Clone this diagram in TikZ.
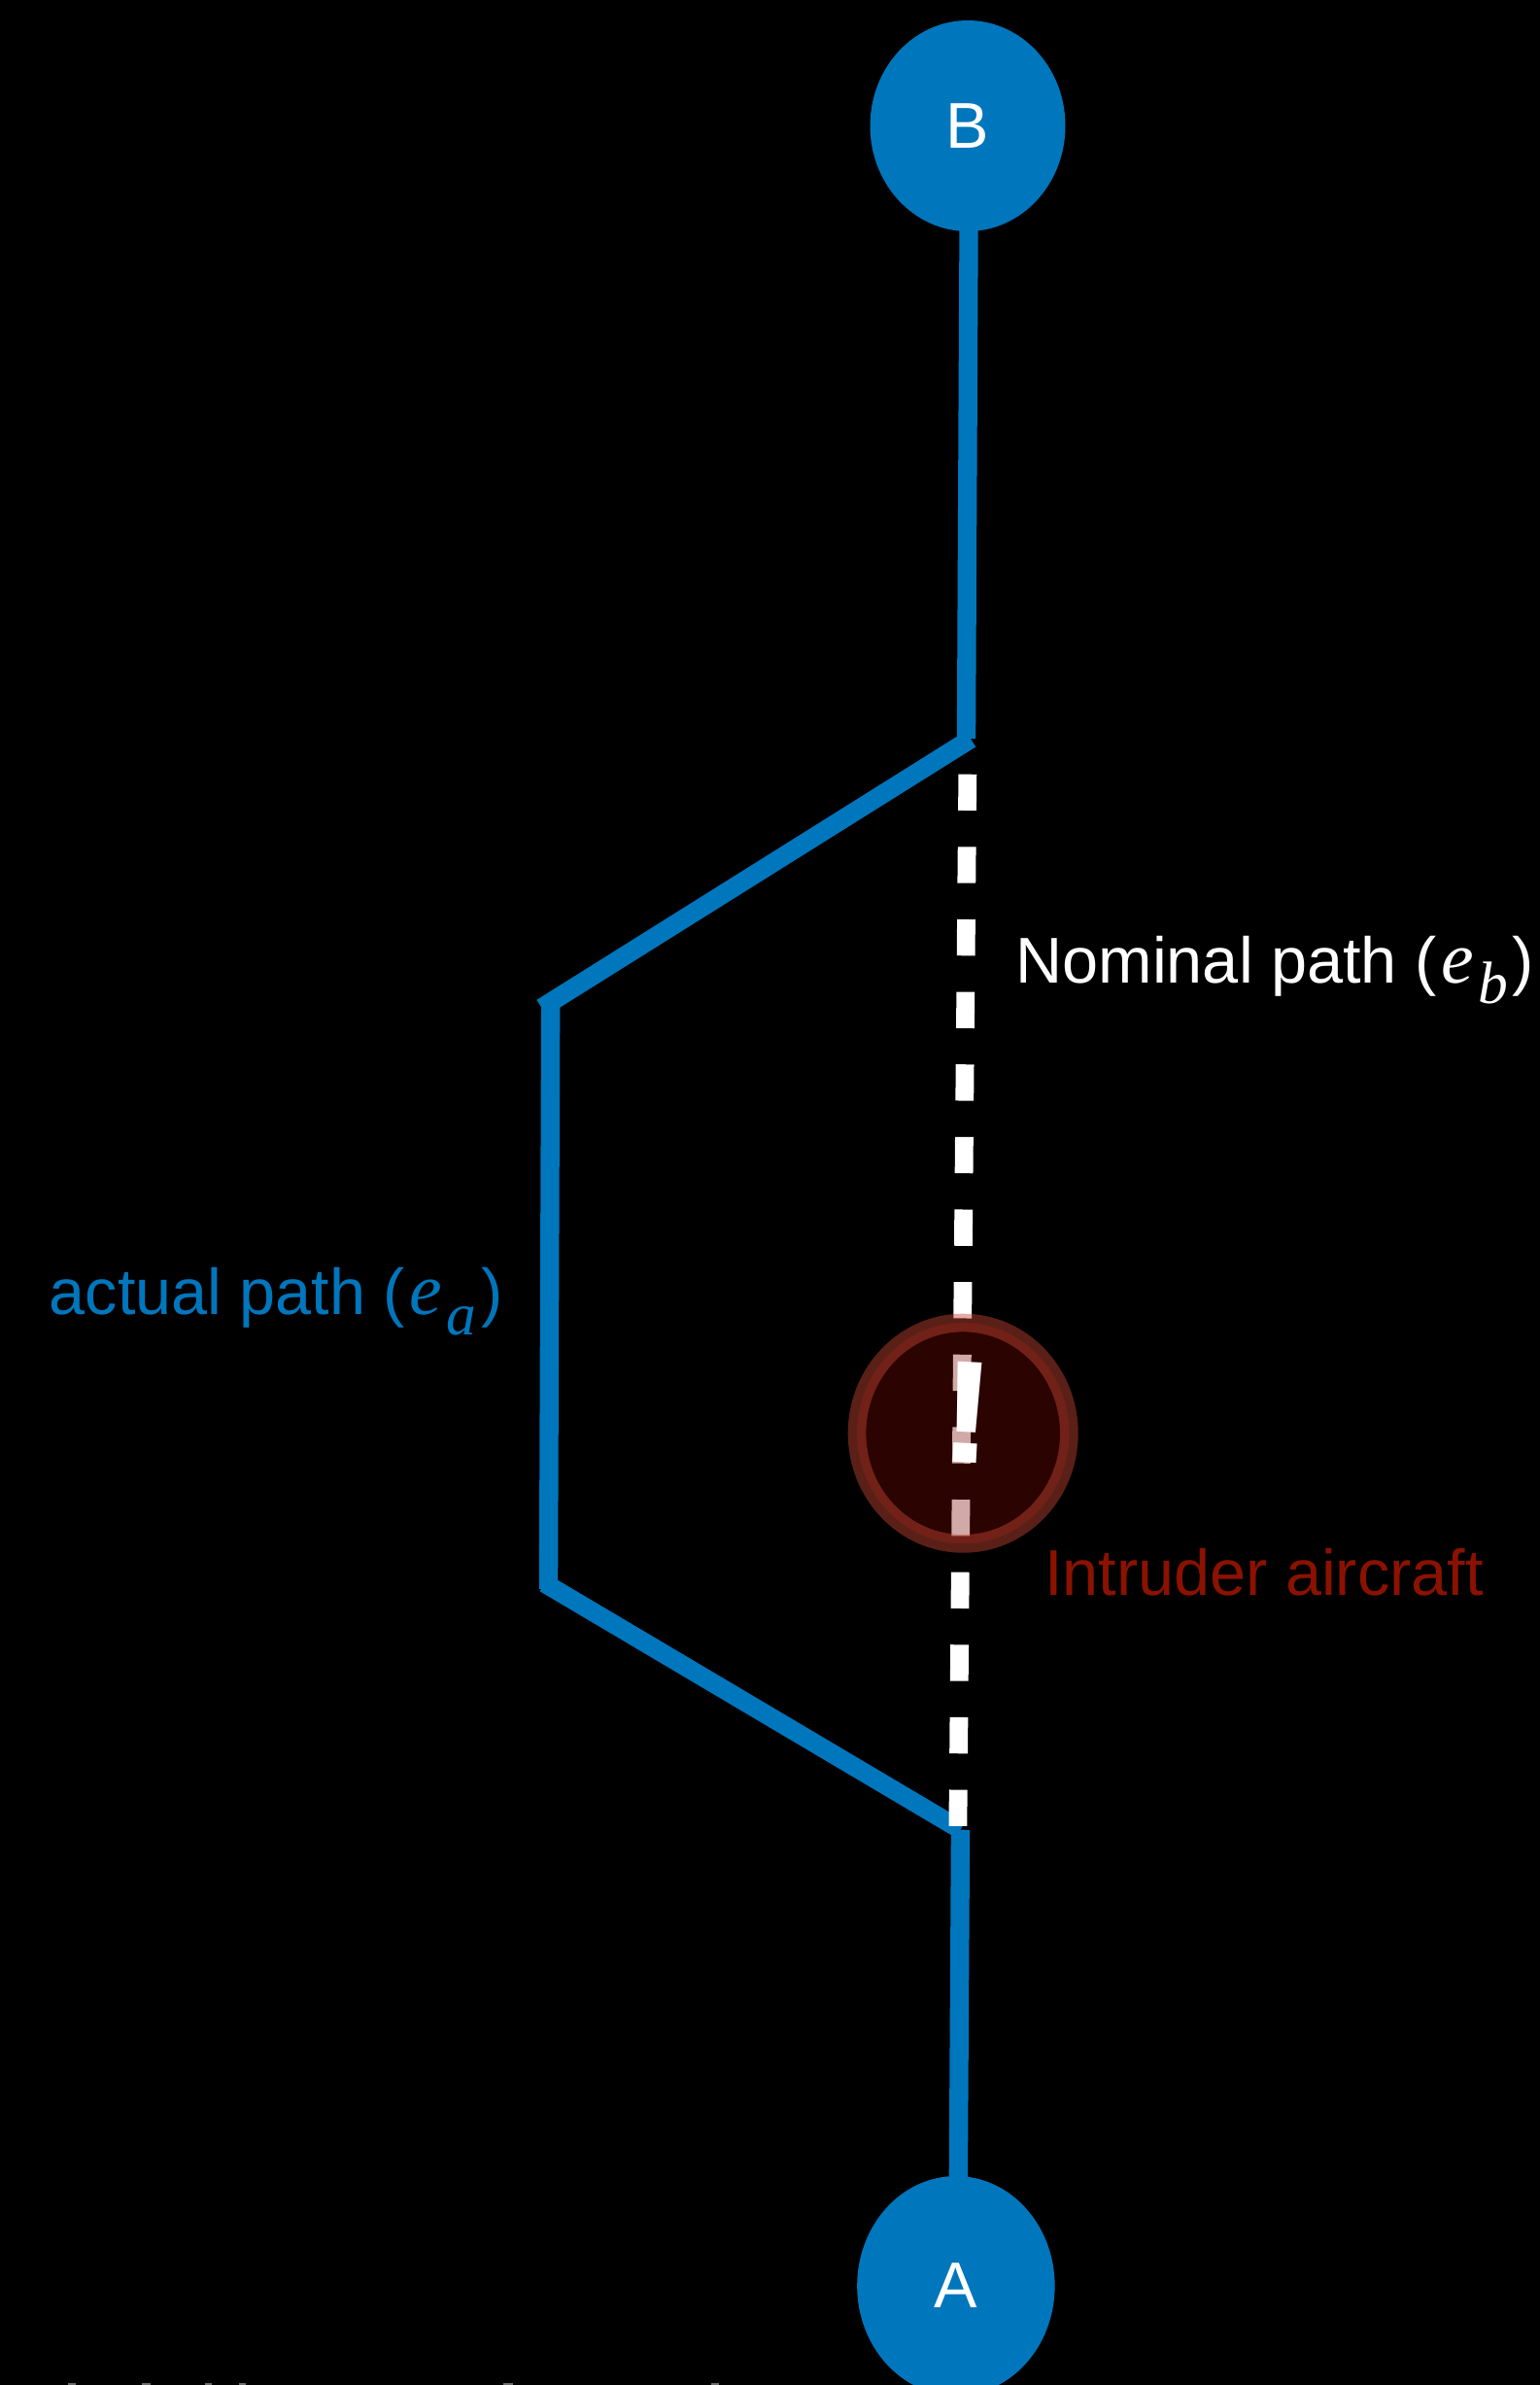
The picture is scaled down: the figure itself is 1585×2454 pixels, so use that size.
\documentclass[tikz,border=0pt]{standalone}
\usepackage{fontspec}
\setmainfont{Liberation Sans}
\newfontfamily\mathserif{Liberation Serif}
\usetikzlibrary{shapes.geometric}
\definecolor{pathblue}{HTML}{0076BC}
\definecolor{intruderred}{HTML}{8B1200}
\definecolor{haloRed}{RGB}{200,71,53}
\definecolor{discRed}{RGB}{126,11,0}
\definecolor{sliver}{HTML}{6E6E6E}
\newcommand{\labelfont}{\fontsize{37.9}{44}\selectfont}
\newcommand{\mvar}[2]{\hspace{0.07em}{\mathserif\itshape\fontsize{43}{44}\selectfont #1\raisebox{-0.28em}{\fontsize{35}{40}\selectfont\hspace{0.07em}#2\hspace{0.08em}}}}
\tikzset{
  route/.style={draw=pathblue,line width=11pt,line cap=butt},
  nominal/.style={draw=white,line width=10.7pt,dash pattern=on 21.24pt off 21.24pt},
  waypoint/.style={ellipse,fill=pathblue,text=white,inner sep=0pt,outer sep=0pt,font=\labelfont},
  pathlabel/.style={anchor=base west,inner sep=0pt,outer sep=0pt,font=\labelfont},
  cutoff/.style={fill=sliver},
}
\begin{document}
\begin{tikzpicture}[x=0.02cm,y=-0.02cm]
\fill[black] (0,0) rectangle (1585,2454);
\useasboundingbox (0,0) rectangle (1585,2454);
\clip (0,0) rectangle (1585,2454);
\node[waypoint,minimum width=4.02cm,minimum height=4.34cm] (B) at (996,129.5) {B};
\node[waypoint,minimum width=4.07cm,minimum height=4.52cm] (A) at (983.9,2352) {A};
\coordinate (topTurn) at (994.5,760);
\coordinate (diagTopR) at (999.1,760.3);
\coordinate (diagTopL) at (557.5,1037);
\coordinate (sideTop) at (566.7,1030);
\coordinate (sideBot) at (564.5,1635);
\coordinate (diagBotL) at (560.5,1629);
\coordinate (diagBotR) at (988.5,1882.5);
\coordinate (botTurn) at (988.5,1882.7);
\coordinate (nomTop) at (995.85,796.7);
\coordinate (nomBot) at (985.9,1879.3);
\coordinate (intruder) at (991.2,1474.7);
\draw[route,shorten <=-2pt] ([xshift=0.6pt]B.south) -- (topTurn);
\draw[route] (diagTopR) -- (diagTopL);
\draw[route] (sideTop) -- (sideBot);
\draw[route] (diagBotL) -- (diagBotR);
\draw[route,shorten >=-2pt] (botTurn) -- ([xshift=1.4pt]A.north);
\draw[nominal] (nomTop) -- (nomBot);
\fill[discRed,fill opacity=0.35] (intruder) ellipse [x radius=2.184cm,y radius=2.274cm];
\draw[haloRed,draw opacity=0.45,line width=10.64pt] (intruder) ellipse [x radius=2.184cm,y radius=2.274cm];
\node[inner sep=0pt,text=white,rotate=-3,xscale=1.15,font=\bfseries\fontsize{85.5}{90}\selectfont] (bang) at (995.5,1453) {!};
\node[pathlabel,text=white] (nominalLabel) at (1045.6,1011.7) {Nominal path (\mvar{e}{b})};
\node[pathlabel,text=pathblue] (actualLabel) at (50.7,1352.7) {actual path (\mvar{e}{a})};
\node[pathlabel,text=intruderred] (intruderLabel) at (1075.2,1641.7) {Intruder aircraft};
\foreach \xa/\xb in {70/78,146/155,211/218,246/253,518/528,732/740}{
  \fill[cutoff] (\xa,2452.3) rectangle (\xb,2454);
}
\end{tikzpicture}
\end{document}
